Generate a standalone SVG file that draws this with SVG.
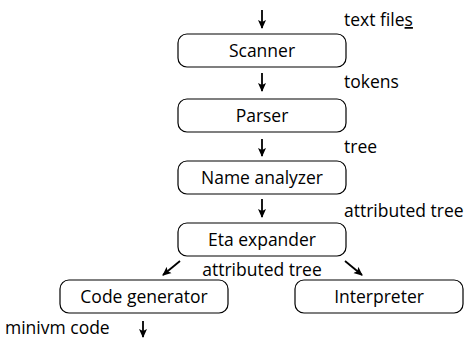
<svg xmlns="http://www.w3.org/2000/svg" width="470" height="340" viewBox="0 0 470 340">
<defs>
<marker id="ah" markerWidth="9" markerHeight="9" refX="8" refY="4.5" orient="auto" markerUnits="userSpaceOnUse">
<path d="M0,0.5 L9,4.5 L0,8.5 L2,4.5 Z" fill="#000"/>
</marker>
<style>
.box{fill:#fff;stroke:#000;stroke-width:1.2}
.t{font-family:"Open Sans","Noto Sans",sans-serif;font-size:17.5px;fill:#000}
.m{text-anchor:middle}
.c{stroke:#000;stroke-width:1.8;fill:none;marker-end:url(#ah)}
</style>
</defs>
<rect width="470" height="340" fill="#fff"/>
<g id="connectors">
<line class="c" x1="262" y1="10" x2="262" y2="28"/>
<line class="c" x1="262" y1="73" x2="262" y2="91"/>
<line class="c" x1="262" y1="139" x2="262" y2="156"/>
<line class="c" x1="262" y1="199" x2="262" y2="217"/>
<line class="c" x1="180" y1="261" x2="163" y2="275"/>
<line class="c" x1="345" y1="261" x2="362" y2="275"/>
<line class="c" x1="143" y1="321" x2="143" y2="337"/>
</g>
<g id="labels">
<text class="t" x="344" y="26">text file<tspan text-decoration="underline">s</tspan></text>
<text class="t" x="344" y="88">tokens</text>
<text class="t" x="344" y="153">tree</text>
<text class="t" x="344" y="217">attributed tree</text>
<text class="t m" x="262" y="276">attributed tree</text>
<text class="t" x="5" y="334">minivm code</text>
</g>
<g id="scanner">
<rect class="box" x="178" y="34" width="168" height="33" rx="9"/>
<text class="t m" x="262" y="57">Scanner</text>
</g>
<g id="parser">
<rect class="box" x="178" y="99" width="168" height="33" rx="9"/>
<text class="t m" x="262" y="122">Parser</text>
</g>
<g id="name-analyzer">
<rect class="box" x="178" y="161" width="168" height="33" rx="9"/>
<text class="t m" x="262" y="184">Name analyzer</text>
</g>
<g id="eta-expander">
<rect class="box" x="178" y="223" width="168" height="33" rx="9"/>
<text class="t m" x="262" y="246">Eta expander</text>
</g>
<g id="code-generator">
<rect class="box" x="60" y="280" width="168" height="33" rx="9"/>
<text class="t m" x="144" y="303">Code generator</text>
</g>
<g id="interpreter">
<rect class="box" x="295" y="280" width="168" height="33" rx="9"/>
<text class="t m" x="379" y="303">Interpreter</text>
</g>
</svg>
